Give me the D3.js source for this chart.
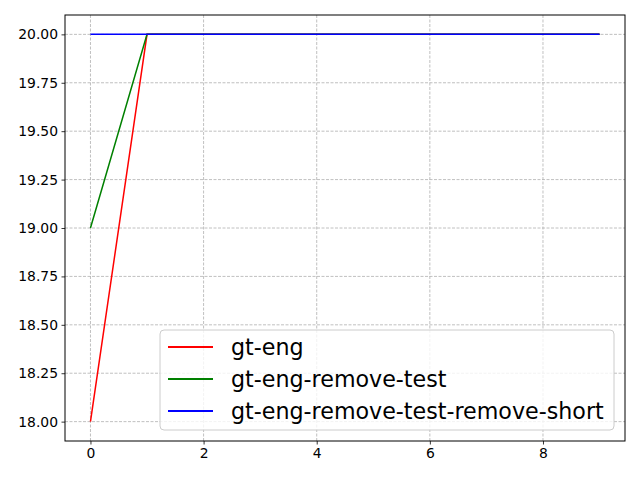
<!DOCTYPE html>
<html>
<head>
<meta charset="utf-8">
<script src="https://cdn.jsdelivr.net/npm/d3@7"></script>
<style>
  body { margin: 0; background: #fff; }
  svg { font-family: "DejaVu Sans", sans-serif; }
</style>
</head>
<body>
<div id="chart"></div>
<script>
// series
const xs = [0, 1, 2, 3, 4, 5, 6, 7, 8, 9];
const gtEng = [18, 20, 20, 20, 20, 20, 20, 20, 20, 20];
const gtEngRemoveTest = [19, 20, 20, 20, 20, 20, 20, 20, 20, 20];
const gtEngRemoveTestShort = [20, 20, 20, 20, 20, 20, 20, 20, 20, 20];
const seriesNames = ["gt-eng", "gt-eng-remove-test", "gt-eng-remove-test-remove-short"];
const seriesColors = ["#ff0000", "#008000", "#0000ff"];
const xTicks = [0, 2, 4, 6, 8];
const yTicks = [18, 18.25, 18.5, 18.75, 19, 19.25, 19.5, 19.75, 20];

const allSeries = [gtEng, gtEngRemoveTest, gtEngRemoveTestShort];

const W = 640, H = 480;
const margin = { top: 15, right: 15, bottom: 39, left: 65 };
const width = W - margin.left - margin.right;
const height = H - margin.top - margin.bottom;

const svg = d3.select("#chart").append("svg")
  .attr("width", W).attr("height", H);

const g = svg.append("g")
  .attr("transform", "translate(" + margin.left + "," + margin.top + ")");

const xScale = d3.scaleLinear().domain([-0.45, 9.45]).range([0, width]);
const yScale = d3.scaleLinear().domain([17.9, 20.1]).range([height, 0]);

// grid
g.append("g").selectAll("line").data(xTicks).enter().append("line")
  .attr("x1", d => xScale(d)).attr("x2", d => xScale(d))
  .attr("y1", 0).attr("y2", height)
  .attr("stroke", "#b0b0b0").attr("stroke-width", 0.8).attr("stroke-dasharray", "3,1.5");
g.append("g").selectAll("line").data(yTicks).enter().append("line")
  .attr("y1", d => yScale(d)).attr("y2", d => yScale(d))
  .attr("x1", 0).attr("x2", width)
  .attr("stroke", "#b0b0b0").attr("stroke-width", 0.8).attr("stroke-dasharray", "3,1.5");

// lines
const line = d3.line()
  .x((d, i) => xScale(xs[i]))
  .y(d => yScale(d));

g.append("g").selectAll("path").data(allSeries).enter().append("path")
  .attr("d", line)
  .attr("fill", "none")
  .attr("stroke", (d, i) => seriesColors[i])
  .attr("stroke-width", 1.5);

// axes
const xAxis = g.append("g")
  .attr("transform", "translate(0," + height + ")")
  .call(d3.axisBottom(xScale).tickValues(xTicks).tickSize(3.5).tickPadding(3.5).tickFormat(d3.format("d")));
const yAxis = g.append("g")
  .call(d3.axisLeft(yScale).tickValues(yTicks).tickSize(3.5).tickPadding(3.5).tickFormat(d3.format(".2f")));

[xAxis, yAxis].forEach(a => {
  a.select(".domain").remove();
  a.selectAll(".tick line").attr("stroke", "#000").attr("stroke-width", 0.8);
  a.selectAll(".tick text").attr("font-size", "13.9px").attr("font-family", "DejaVu Sans").attr("fill", "#000");
});

// frame
g.append("rect")
  .attr("width", width).attr("height", height)
  .attr("fill", "none").attr("stroke", "#000").attr("stroke-width", 1);

// legend
const legend = g.append("g").attr("transform", "translate(" + (160 - margin.left) + "," + (330 - margin.top) + ")");
legend.append("rect")
  .attr("width", 454).attr("height", 100).attr("rx", 4)
  .attr("fill", "#fff").attr("fill-opacity", 0.8)
  .attr("stroke", "#cccccc").attr("stroke-width", 1);

const items = legend.selectAll(".legend-item").data(seriesNames).enter().append("g")
  .attr("class", "legend-item")
  .attr("transform", (d, i) => "translate(0," + (17 + i * 32) + ")");
items.append("line")
  .attr("x1", 8).attr("x2", 53)
  .attr("stroke", (d, i) => seriesColors[i]).attr("stroke-width", 2);
items.append("text")
  .attr("x", 71).attr("dy", "0.35em")
  .attr("font-size", "22.2px")
  .attr("fill", "#000")
  .text(d => d);
</script>
</body>
</html>
